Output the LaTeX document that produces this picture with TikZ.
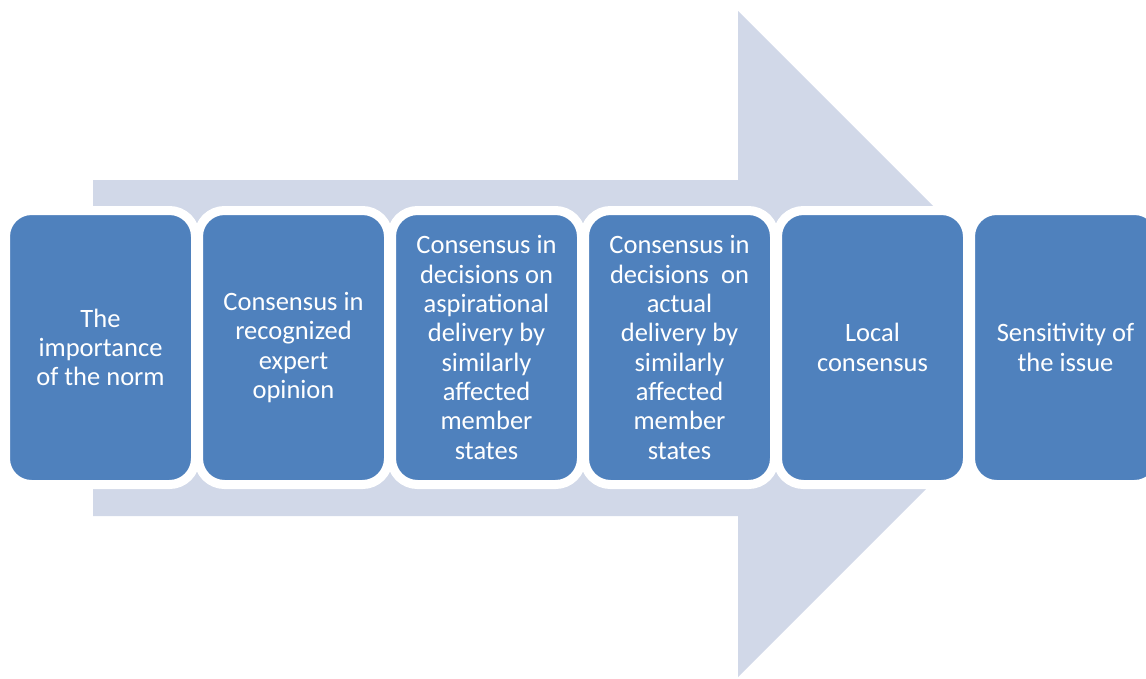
\documentclass[tikz,border=0pt]{standalone}
\usepackage{fontspec}
\setmainfont{Carlito}
\usetikzlibrary{positioning}
\definecolor{StageBlue}{HTML}{4F81BD}
\definecolor{BandGrey}{HTML}{D1D8E8}

\begin{document}
\begin{tikzpicture}[
  x=1pt,y=-1pt,
  node distance=3pt,
  every node/.style={font=\fontsize{26.5}{29.3}\selectfont,align=center,text=white},
  stage/.style={draw=white,line width=9pt,fill=StageBlue,rounded corners=26pt,
    minimum width=190pt,minimum height=274pt,outer sep=0pt,inner sep=0pt},
  band/.style={fill=BandGrey}
]
\useasboundingbox (0,0) rectangle (1146,678);
\clip (0,0) rectangle (1146,678);
% background arrow
\fill[band] (93,180) -- (738,180) -- (738,11) -- (1071,344) -- (738,677)
  -- (738,516) -- (93,516) -- cycle;
\node[stage] (norm) at (100.5,347.5) {The\\importance\\of the norm};
\node[stage,right=of norm] (expert) {Consensus in\\recognized\\expert\\opinion};
\node[stage,right=of expert] (aspire) {Consensus in\\decisions on\\aspirational\\delivery by\\similarly\\affected\\member\\states};
\node[stage,right=of aspire] (actual) {Consensus in\\decisions\ \ on\\actual\\delivery by\\similarly\\affected\\member\\states};
\node[stage,right=of actual] (local) {Local\\consensus};
\node[stage,right=of local] (issue) {Sensitivity of\\the issue};
\end{tikzpicture}
\end{document}
